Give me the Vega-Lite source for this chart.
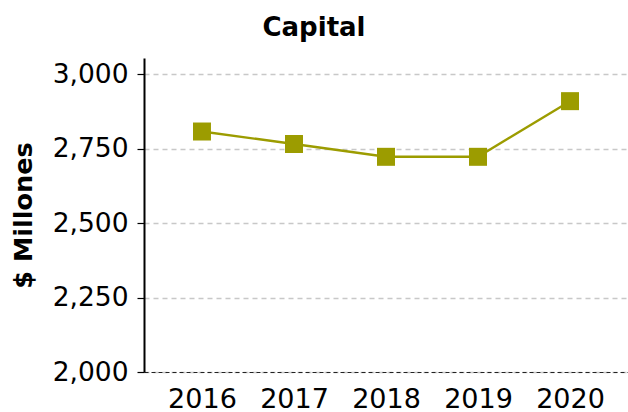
{
  "$schema": "https://vega.github.io/schema/vega-lite/v6.json",
  "autosize": "none",
  "width": 484,
  "height": 314,
  "padding": {"left": 144, "top": 58, "right": 0, "bottom": 40},
  "background": "white",
  "title": {
    "text": "Capital",
    "font": "DejaVu Sans",
    "fontSize": 26,
    "fontWeight": "bold",
    "color": "black",
    "anchor": "middle",
    "frame": "group",
    "dx": -72,
    "dy": 24,
    "baseline": "alphabetic",
    "offset": 20
  },
  "config": {
    "view": {"stroke": null},
    "font": "DejaVu Sans"
  },
  "data": {
    "values": [
      {"year": "2016", "value": 2808},
      {"year": "2017", "value": 2766},
      {"year": "2018", "value": 2723},
      {"year": "2019", "value": 2723},
      {"year": "2020", "value": 2910}
    ]
  },
  "encoding": {
    "x": {
      "field": "year",
      "type": "ordinal",
      "scale": {"type": "point", "padding": 0.63},
      "axis": {
        "title": null,
        "labelAngle": 0,
        "labelFont": "DejaVu Sans",
        "labelFontSize": 27,
        "labelColor": "black",
        "ticks": false,
        "labelPadding": 14,
        "domainColor": "#222222",
        "domainDash": [4, 3],
        "domainWidth": 1.2,
        "grid": false
      }
    },
    "y": {
      "field": "value",
      "type": "quantitative",
      "scale": {"domain": [2000, 3055], "nice": false, "zero": false},
      "axis": {
        "title": "$ Millones",
        "titleFont": "DejaVu Sans",
        "titleFontSize": 25.5,
        "titleFontWeight": "bold",
        "titleColor": "black",
        "titleX": -113,
        "titleY": 157,
        "titleBaseline": "alphabetic",
        "titleAngle": -90,
        "titleAlign": "center",
        "values": [2000, 2250, 2500, 2750, 3000],
        "format": ",.0f",
        "labelFont": "DejaVu Sans",
        "labelFontSize": 26.5,
        "labelColor": "black",
        "labelPadding": 9,
        "tickSize": 7,
        "tickColor": "black",
        "tickWidth": 1.2,
        "domainColor": "black",
        "domainWidth": 2,
        "grid": true,
        "gridColor": "#c8c8c8",
        "gridDash": [5, 4],
        "gridWidth": 1.4
      }
    }
  },
  "layer": [
    {
      "mark": {"type": "line", "color": "#9c9c00", "strokeWidth": 2.4}
    },
    {
      "mark": {"type": "point", "shape": "square", "filled": true, "size": 324, "color": "#9c9c00", "opacity": 1}
    }
  ]
}
